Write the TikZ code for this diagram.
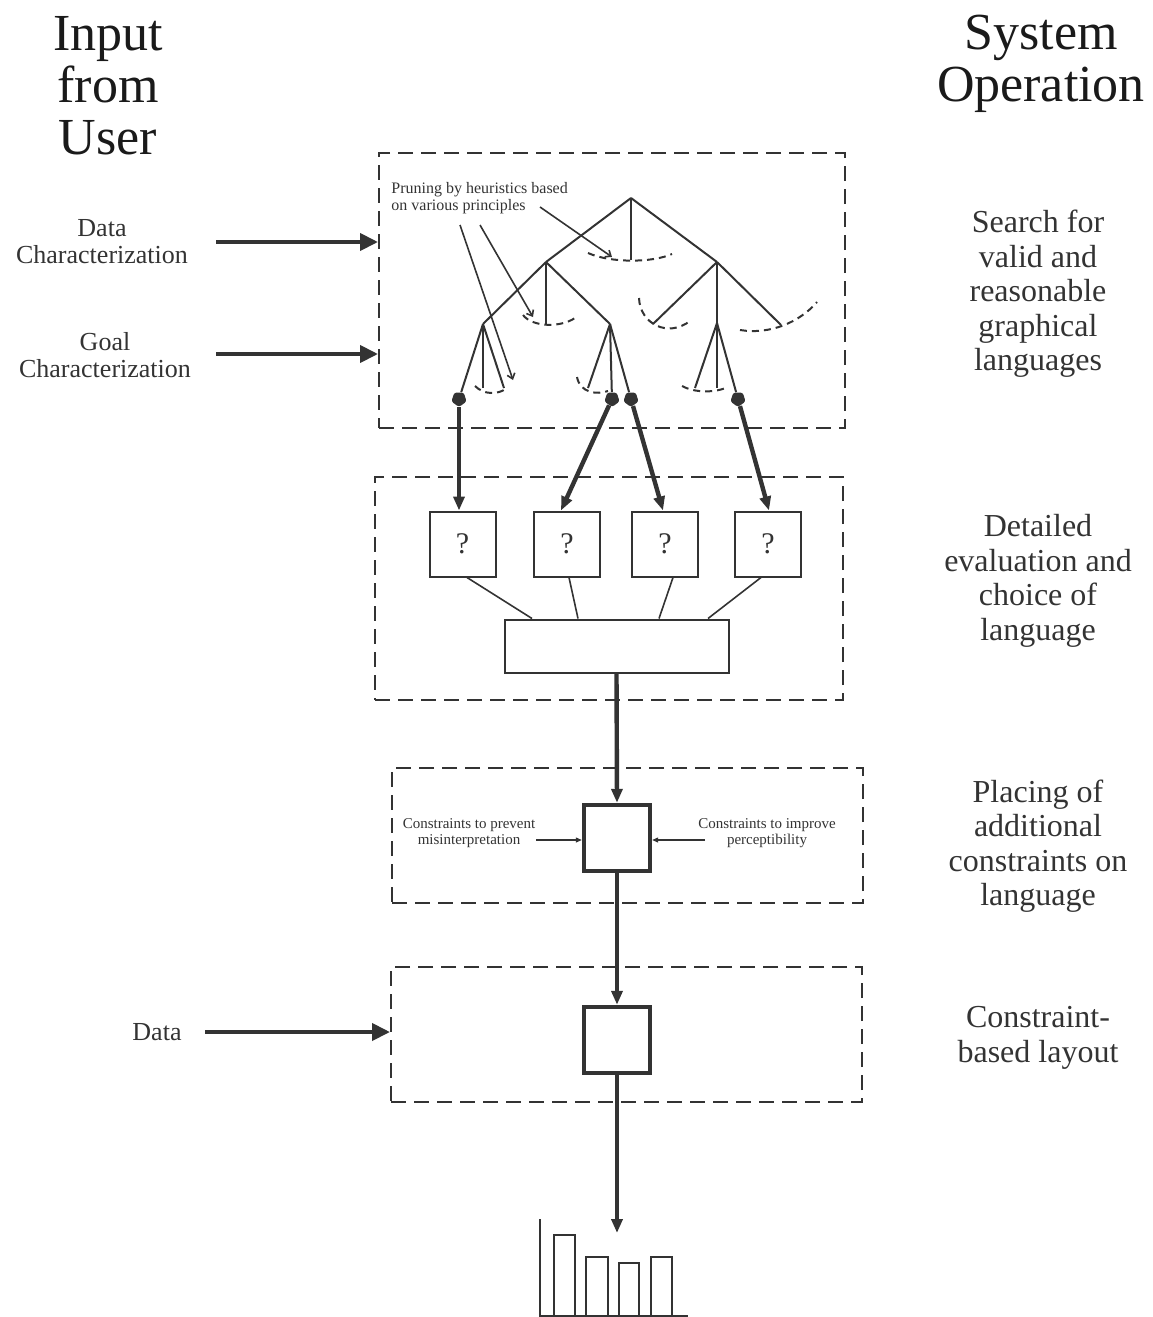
\documentclass[tikz,border=0pt]{standalone}
\usepackage{fontspec}
\setmainfont{Liberation Serif}
\usetikzlibrary{arrows.meta,calc,shapes.geometric}
\definecolor{ink}{HTML}{333333}
\definecolor{titleink}{HTML}{1A1A1A}
\begin{document}
\begin{tikzpicture}[x=0.5pt,y=-0.5pt,
  every node/.style={text=ink},
  frame/.style={draw=ink, dash pattern=on 7.5pt off 4pt, line width=1pt, inner sep=0pt, rectangle},
  qbox/.style={draw=ink, line width=1pt, minimum width=33pt, minimum height=32.5pt, inner sep=0pt, font=\fontsize{15}{18}\selectfont},
  sqbox/.style={draw=ink, line width=2.2pt, minimum width=33pt, minimum height=33pt, inner sep=0pt},
  widebox/.style={draw=ink, line width=1pt, minimum width=112pt, minimum height=26.5pt, inner sep=0pt},
  tree/.style={draw=ink, line width=1pt},
  prunedarc/.style={draw=ink, line width=1pt, dash pattern=on 3.5pt off 2.5pt},
  leafdot/.style={fill=ink, regular polygon, regular polygon sides=5, shape border rotate=180, rounded corners=1.2pt, inner sep=0pt, minimum size=8pt},
  thickarrow/.style={draw=ink, line width=2.2pt, -{Triangle[length=7pt,width=5.5pt]}},
  inarrow/.style={draw=ink, line width=2pt, -{Triangle[length=9pt,width=8.5pt]}},
  thinarrow/.style={draw=ink, line width=0.6pt, -{Triangle[length=3pt,width=2.5pt]}},
  prunearrow/.style={draw=ink, line width=0.8pt, -{Straight Barb[length=2.5pt,width=4pt]}},
  joinline/.style={draw=ink, line width=0.8pt},
  title/.style={align=center, text=titleink, font=\fontsize{26}{26}\selectfont},
  side/.style={align=center, font=\fontsize{16}{17.25}\selectfont},
  inlabel/.style={align=center, font=\fontsize{13}{13.5}\selectfont},
  small/.style={align=center, font=\fontsize{7.5}{8}\selectfont},
  prunetext/.style={anchor=west, align=left, inner sep=0pt, font=\fontsize{8}{8.5}\selectfont},
]
\useasboundingbox (0,0) rectangle (1152,1317);

% titles
\node[title] (tin) at (108,86) {Input\\from\\User};
\node[title] (tsys) at (1041,64) {System\\Operation};

% frames
\node[frame, minimum width=233pt, minimum height=137.5pt] (fr1) at (612,290.5) {};
\node[frame, minimum width=234pt, minimum height=111.5pt] (fr2) at (609,588.5) {};
\node[frame, minimum width=235.5pt, minimum height=67.5pt] (fr3) at (627.5,835.5) {};
\node[frame, minimum width=235.5pt, minimum height=67.5pt] (fr4) at (626.5,1034.5) {};

% side labels
\node[side] (s1) at (1038,294) {Search for\\valid and\\reasonable\\graphical\\languages};
\node[side] (s2) at (1038,581) {Detailed\\evaluation and\\choice of\\language};
\node[side] (s3) at (1038,846) {Placing of\\additional\\constraints on\\language};
\node[side] (s4) at (1038,1038) {Constraint-\\based layout};

% input labels and arrows
\node[inlabel] (ldc) at (102,242) {Data\\Characterization};
\node[inlabel] (lgc) at (105,355) {Goal\\Characterization};
\node[inlabel] (ldata) at (157,1032) {Data};
\coordinate (dcs) at (216,242);
\coordinate (gcs) at (216,354);
\coordinate (das) at (205,1032);
\draw[inarrow] (dcs) -- (dcs -| fr1.west);
\draw[inarrow] (gcs) -- (gcs -| fr1.west);
\draw[inarrow] (das) -- (das -| fr4.west);

% tree
\coordinate (R) at (631,198);
\coordinate (A) at (546,262);
\coordinate (B) at (631,260);
\coordinate (C) at (717,262);
\coordinate (AA) at (483,324);
\coordinate (AB) at (546,324);
\coordinate (AC) at (610,324);
\coordinate (CA) at (653,324);
\coordinate (CB) at (717,323);
\coordinate (CC) at (781,325);
\coordinate (AAb) at (483,388);
\coordinate (AAc) at (504,388);
\coordinate (ACa) at (588,388);
\coordinate (CBa) at (695,388);
\coordinate (CBb) at (717,388);
\node[leafdot] (d1) at (459,399) {};
\node[leafdot] (d2) at (612,399) {};
\node[leafdot] (d3) at (631,399) {};
\node[leafdot] (d4) at (738,399) {};

\draw[tree] (R) -- (A);
\draw[tree] (R) -- (B);
\draw[tree] (R) -- (C);
\draw[tree] (A) -- (AA);
\draw[tree] (A) -- (AB);
\draw[tree] (A) -- (AC);
\draw[tree] (C) -- (CA);
\draw[tree] (C) -- (CB);
\draw[tree] (C) -- (CC);
\draw[tree] (AA) -- (d1);
\draw[tree] (AA) -- (AAb);
\draw[tree] (AA) -- (AAc);
\draw[tree] (AC) -- (ACa);
\draw[tree] (AC) -- (d2);
\draw[tree] (AC) -- (d3);
\draw[tree] (CB) -- (CBa);
\draw[tree] (CB) -- (CBb);
\draw[tree] (CB) -- (d4);

% pruned arcs
\draw[prunedarc] (588,253) .. controls (610,263) and (652,263) .. (672,254);
\draw[prunedarc] (523,315) .. controls (532,327) and (560,328) .. (575,318);
\draw[prunedarc] (639,298) .. controls (640,324) and (668,338) .. (690,321);
\draw[prunedarc] (740,330) .. controls (770,335) and (800,322) .. (817,302);
\draw[prunedarc] (475,386) .. controls (484,395) and (498,395) .. (507,388);
\draw[prunedarc] (577,377) .. controls (580,393) and (597,395) .. (608,391);
\draw[prunedarc] (682,386) .. controls (695,393) and (715,393) .. (728,387);

% pruning annotation
\node[prunetext] (prune) at (391,198.5) {Pruning by heuristics based\\on various principles};
\coordinate (p1s) at (540,207);
\coordinate (p1e) at (612,257);
\coordinate (p2s) at (460,225);
\coordinate (p2e) at (513,380);
\coordinate (p3s) at (480,225);
\coordinate (p3e) at (533,317);
\draw[prunearrow] (p1s) -- (p1e);
\draw[prunearrow] (p2s) -- (p2e);
\draw[prunearrow] (p3s) -- (p3e);

% evaluation boxes
\node[qbox] (q1) at (462.5,544) {?};
\node[qbox] (q2) at (567,544) {?};
\node[qbox] (q3) at (665,544) {?};
\node[qbox] (q4) at (768,544) {?};
\node[widebox] (wide) at (616.5,646) {};

\draw[thickarrow] (d1) -- ($(q1.north)+(-3.5,0)$);
\draw[thickarrow] (d2) -- ($(q2.north)+(-6,0)$);
\draw[thickarrow] (d3) -- ($(q3.north)+(-2,0)$);
\draw[thickarrow] (d4) -- ($(q4.north)+(1,0)$);

\draw[joinline] ($(q1.south)+(4.5,0)$) -- ($(wide.north)+(-84.5,0)$);
\draw[joinline] ($(q2.south)+(2,0)$) -- ($(wide.north)+(-38.5,0)$);
\draw[joinline] ($(q3.south)+(8,0)$) -- ($(wide.north)+(42.5,0)$);
\draw[joinline] ($(q4.south)+(-7,0)$) -- ($(wide.north)+(91.5,0)$);

% constraint and layout squares
\node[sqbox] (sq1) at (617,838) {};
\node[sqbox] (sq2) at (617,1040) {};
\draw[thickarrow] (wide.south) -- (sq1.north);
\draw[thickarrow] (sq1.south) -- (sq2.north);

\node[small] (c1) at (469,833) {Constraints to prevent\\misinterpretation};
\node[small] (c2) at (767,833) {Constraints to improve\\perceptibility};
\coordinate (c1s) at (536,840);
\coordinate (c2s) at (705,840);
\draw[thinarrow] (c1s) -- (c1s -| sq1.west);
\draw[thinarrow] (c2s) -- (c2s -| sq1.east);

% output chart
\coordinate (chartin) at (617,1233);
\draw[thickarrow] (sq2.south) -- (chartin);
\draw[draw=ink, line width=1pt] (540,1219) -- (540,1316) -- (688,1316);
\draw[draw=ink, line width=1pt] (554,1316) |- (575,1235) -- (575,1316);
\draw[draw=ink, line width=1pt] (586,1316) |- (608,1257) -- (608,1316);
\draw[draw=ink, line width=1pt] (619,1316) |- (639,1263) -- (639,1316);
\draw[draw=ink, line width=1pt] (651,1316) |- (672,1257) -- (672,1316);
\end{tikzpicture}
\end{document}
